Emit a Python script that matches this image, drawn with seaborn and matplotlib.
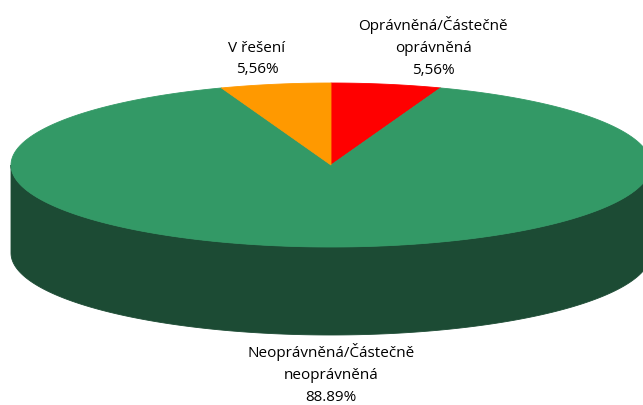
import numpy as np
import matplotlib
matplotlib.use("Agg")
import matplotlib.pyplot as plt
import seaborn as sns
from matplotlib.patches import Polygon

# Complaint outcomes, listed clockwise from 12 o'clock
categories = ["Oprávněná/Částečně\noprávněná",
              "Neoprávněná/Částečně\nneoprávněná",
              "V řešení"]
shares = [5.56, 88.89, 5.56]
value_labels = ["5,56%", "88.89%", "5,56%"]
top_colors = ["#FF0000", "#339966", "#FF9900"]
side_colors = ["#800000", "#1C4B34", "#804C00"]

sns.set_theme(style="white")
plt.rcParams["font.family"] = ["Open Sans", "DejaVu Sans"]

fig = plt.figure(figsize=(6.43, 4.05), dpi=100)
ax = fig.add_axes([0, 0, 1, 1])
ax.set_xlim(0, 643)
ax.set_ylim(405, 0)
ax.axis("off")

# Tilted disc geometry (pixel units)
cx, cy, rx, ry, depth = 331, 165, 320, 82, 88

fractions = np.array(shares) / np.sum(shares)
bounds = np.concatenate([[0.0], np.cumsum(fractions)]) * 360.0


def rim(a, b, dy=0.0, n=200):
    t = np.radians(np.linspace(a, b, n))
    return np.column_stack([cx + rx * np.sin(t), cy - ry * np.cos(t) + dy])


# Visible side walls (front half of the disc, 90..270 deg clockwise from top)
for i in range(len(shares)):
    a, b = max(bounds[i], 90.0), min(bounds[i + 1], 270.0)
    if b <= a:
        continue
    upper = rim(a, b)
    lower = rim(b, a, dy=depth)
    ax.add_patch(Polygon(np.vstack([upper, lower]), closed=True,
                         facecolor=side_colors[i], edgecolor=side_colors[i],
                         linewidth=0.6))

# Top faces of the slices
for i in range(len(shares)):
    arc = rim(bounds[i], bounds[i + 1])
    pts = np.vstack([[cx, cy], arc])
    ax.add_patch(Polygon(pts, closed=True, facecolor=top_colors[i],
                         edgecolor=top_colors[i], linewidth=0.6))

# Data labels
label_pos = [(433, 47), (331, 374), (257, 59)]
for (x, y), cat, val in zip(label_pos, categories, value_labels):
    ax.text(x, y, f"{cat}\n{val}", ha="center", va="center",
            fontsize=11, color="black", linespacing=1.62)

fig.savefig("out.png", dpi=100)
